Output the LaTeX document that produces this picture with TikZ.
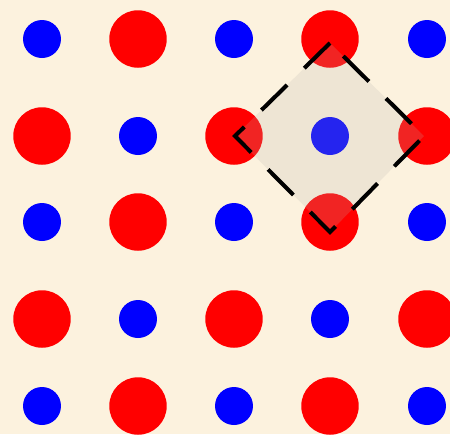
\documentclass[tikz,border=0pt]{standalone}
\usetikzlibrary{positioning,calc}
\definecolor{paper}{HTML}{FCF2DE}
\definecolor{ionred}{HTML}{FF0000}
\definecolor{ionblue}{HTML}{0000FF}
\definecolor{cellgray}{HTML}{B9B4AF}
\tikzset{
  bigion/.style={circle,fill=ionred,minimum size=1.15cm,inner sep=0pt},
  smallion/.style={circle,fill=ionblue,minimum size=0.76cm,inner sep=0pt},
  cellline/.style={draw=black,line width=2.3pt,
                   dash pattern=on 0.72cm off 0.48cm,
                   fill=cellgray,fill opacity=0.2}
}
\begin{document}
\begin{tikzpicture}[x=0.02cm,y=-0.02cm]
  % paper background
  \fill[paper] (0,0) rectangle (450,434);
  \useasboundingbox (0,0) rectangle (450,434);
  % the ion lattice, big and small ions alternate
  \foreach \r/\y in {1/39,2/136,3/222,4/319,5/406} {
    \foreach \c/\x in {1/42,2/138,3/234,4/330,5/427} {
      \pgfmathtruncatemacro{\kind}{mod(\r+\c,2)}
      \ifnum\kind=0
        \node[smallion] (a\r\c) at (\x,\y) {};
      \else
        \node[bigion] (a\r\c) at (\x,\y) {};
      \fi
    }
  }
  % unit cell round the small ion
  \coordinate (ctop)   at ($(a24)+(0,-93)$);
  \coordinate (cleft)  at ($(a24)+(-95,0)$);
  \coordinate (cbot)   at ($(a24)+(0,96)$);
  \coordinate (cright) at ($(a24)+(94,0)$);
  \draw[cellline] (ctop) -- (cleft) -- (cbot) -- (cright) -- cycle;
\end{tikzpicture}
\end{document}
